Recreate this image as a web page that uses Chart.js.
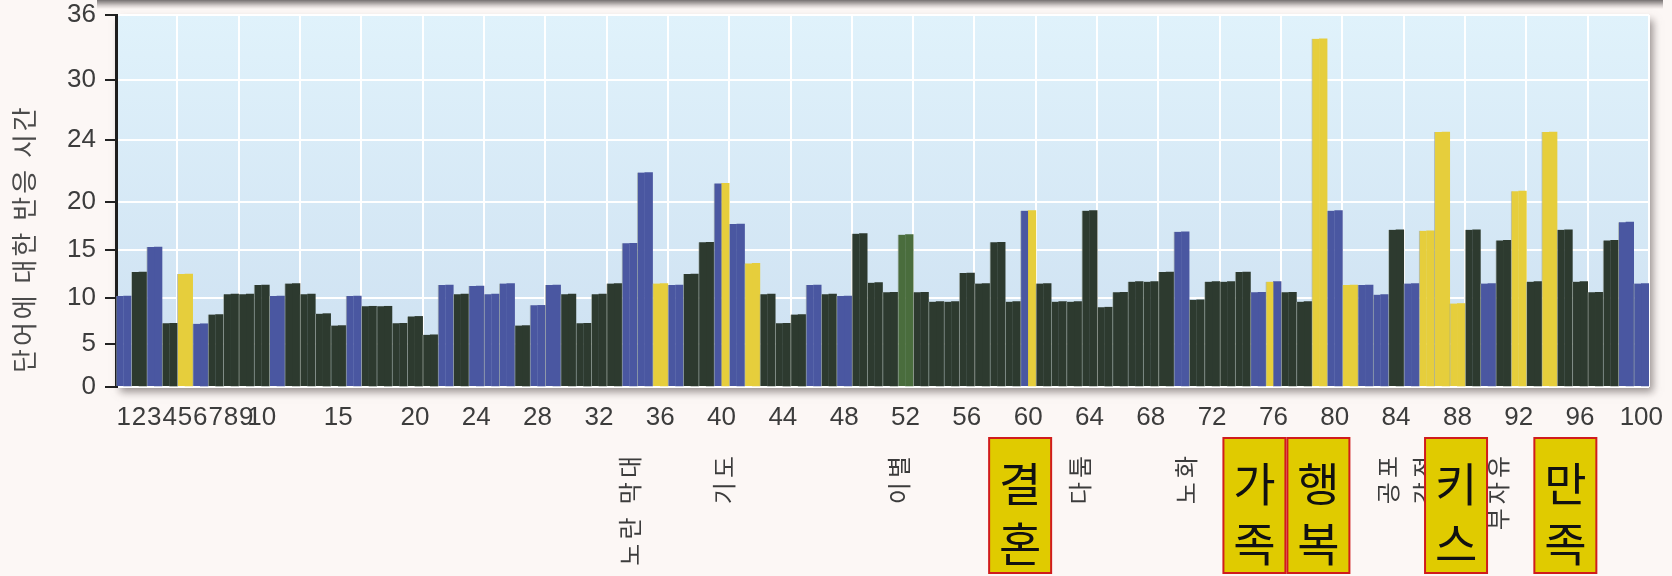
<!DOCTYPE html>
<html lang="ko">
<head>
<meta charset="utf-8">
<title>단어에 대한 반응 시간</title>
<script src="https://cdn.jsdelivr.net/npm/chart.js@4.4.1/dist/chart.umd.min.js"></script>
<style>
    html, body { margin: 0; padding: 0; }
    body { width: 1672px; height: 576px; overflow: hidden; position: relative; background: #fcf7f5; }
    #wrap { position: absolute; left: 0; top: 0; width: 1672px; height: 576px; }
    #topShade { position: absolute; left: 97px; top: 0; width: 1566px; height: 9px;
        background: linear-gradient(#757070, rgba(150,140,140,0.35) 65%, rgba(252,247,245,0)); }
</style>
</head>
<body>
<div id="wrap"><canvas id="myChart"></canvas></div>
<div id="topShade"></div>
<script>
'use strict';

let yTitle = '단어에 대한 반응 시간';
let yTicks = [0, 5, 10, 15, 20, 24, 30, 36];
let shownTicks = [1, 2, 3, 4, 5, 6, 7, 8, 9, 10, 15, 20, 24, 28, 32, 36, 40, 44, 48, 52, 56, 60, 64, 68, 72, 76, 80, 84, 88, 92, 96, 100];

let reactionTimes = [
    10.2, 12.7, 15.3, 7.25, 12.5, 7.2, 8.2, 10.4, 10.4, 11.35,
    10.2, 11.5, 10.4, 8.3, 7.0, 10.2, 9.1, 9.1, 7.25, 8.0,
    6.0, 11.35, 10.4, 11.25, 10.4, 11.5, 7.0, 9.2, 11.35, 10.4,
    7.25, 10.4, 11.5, 15.7, 21.9, 11.5, 11.35, 12.5, 15.8, 21.2,
    17.7, 13.6, 10.4, 7.25, 8.2, 11.35, 10.4, 10.2, 16.7, 11.6,
    10.6, 16.6, 10.6, 9.6, 9.6, 12.6, 11.5, 15.8, 9.6, 19.1,
    11.5, 9.6, 9.6, 19.1, 9.0, 10.6, 11.7, 11.7, 12.7, 16.9,
    9.8, 11.7, 11.7, 12.7, 10.6, 11.7, 10.6, 9.6, 33.8, 19.1,
    11.35, 11.35, 10.35, 17.1, 11.5, 17.0, 24.8, 9.4, 17.1, 11.5,
    16.0, 20.7, 11.7, 24.8, 17.1, 11.7, 10.6, 16.0, 17.9, 11.5
];

// d = dark, b = blue, y = yellow, g = green; two letters = left half / right half
let barGroups = [
    'b', 'd', 'b', 'd', 'y', 'b', 'd', 'd', 'd', 'd',
    'b', 'd', 'd', 'd', 'd', 'b', 'd', 'd', 'd', 'd',
    'd', 'b', 'd', 'b', 'b', 'b', 'd', 'b', 'b', 'd',
    'd', 'd', 'd', 'b', 'b', 'y', 'b', 'd', 'd', 'by',
    'b', 'y', 'd', 'd', 'd', 'b', 'd', 'b', 'd', 'd',
    'd', 'g', 'd', 'd', 'd', 'd', 'd', 'd', 'd', 'by',
    'd', 'd', 'd', 'd', 'd', 'd', 'd', 'd', 'd', 'b',
    'd', 'd', 'd', 'd', 'b', 'yb', 'd', 'd', 'y', 'b',
    'y', 'b', 'b', 'd', 'b', 'y', 'y', 'y', 'd', 'b',
    'd', 'y', 'd', 'y', 'd', 'd', 'd', 'd', 'b', 'b'
];

let wordBars = [34, 40, 52, 64, 70, 84, 86, 91];
let wordTexts = ['노란 막대', '기도', '이별', '다툼', '노화', '공포', '감정', '부자유'];
let boxBars = [60, 76, 79, 87, 94];
let boxTexts = ['결혼', '가족', '행복', '키스', '만족'];

let palette = { d: '#2d3a2f', b: '#4a57a1', y: '#e6ce3c', g: '#4a6d3d' };

let barNumbers = [];
for (let i = 1; i <= 100; i++) {
    barNumbers.push(i);
}

// the printed axis is not linear: each tick sits at its own height
let yTickFractions = [0, 0.1156, 0.2392, 0.3683, 0.4973, 0.664, 0.8253, 1];

class PiecewiseScale extends Chart.LinearScale {
    buildTicks() {
        return yTicks.map(v => ({ value: v }));
    }
    toFraction(v) {
        if (v <= yTicks[0]) return yTickFractions[0] + (v - yTicks[0]) * (yTickFractions[1] / yTicks[1]);
        for (let i = 1; i < yTicks.length; i++) {
            if (v <= yTicks[i]) {
                let t = (v - yTicks[i - 1]) / (yTicks[i] - yTicks[i - 1]);
                return yTickFractions[i - 1] + t * (yTickFractions[i] - yTickFractions[i - 1]);
            }
        }
        return 1;
    }
    getPixelForValue(value) {
        if (value === null || isNaN(value)) return NaN;
        return this.getPixelForDecimal(this.toFraction(value));
    }
    getValueForPixel(pixel) {
        let f = this.getDecimalForPixel(pixel);
        for (let i = 1; i < yTicks.length; i++) {
            if (f <= yTickFractions[i]) {
                let t = (f - yTickFractions[i - 1]) / (yTickFractions[i] - yTickFractions[i - 1]);
                return yTicks[i - 1] + t * (yTicks[i] - yTicks[i - 1]);
            }
        }
        return yTicks[yTicks.length - 1];
    }
}
PiecewiseScale.id = 'piecewise';
Chart.register(PiecewiseScale);

let plotBackground = {
    id: 'plotBackground',
    beforeDraw(chart) {
        let ctx = chart.ctx;
        let a = chart.chartArea;
        ctx.save();
        ctx.shadowColor = 'rgba(70,60,60,0.55)';
        ctx.shadowBlur = 8;
        ctx.shadowOffsetX = 4;
        ctx.shadowOffsetY = 5;
        let g = ctx.createLinearGradient(0, a.top, 0, a.bottom);
        g.addColorStop(0, '#e0f2fb');
        g.addColorStop(1, '#cde0f1');
        ctx.fillStyle = g;
        ctx.fillRect(a.left, a.top, a.width, a.height);
        ctx.restore();
    }
};

let annotations = {
    id: 'annotations',
    afterDraw(chart, args, opts) {
        let ctx = chart.ctx;
        let xs = chart.scales.x;

        // y axis title, reading upwards
        ctx.save();
        ctx.translate(24, 373);
        ctx.rotate(-Math.PI / 2);
        ctx.font = '26px "Noto Sans CJK KR"';
        ctx.letterSpacing = '3px';
        ctx.fillStyle = '#4a4a4a';
        ctx.textAlign = 'left';
        ctx.textBaseline = 'middle';
        ctx.fillText(yTitle, 0, 0);
        ctx.restore();

        // small rotated words under the axis
        for (let i = 0; i < wordBars.length; i++) {
            let x = xs.getPixelForValue(wordBars[i] - 1) + opts.wordNudge[i];
            ctx.save();
            ctx.translate(x, 452);
            ctx.rotate(-Math.PI / 2);
            ctx.font = '24px "Noto Sans CJK KR"';
            ctx.letterSpacing = '4px';
            ctx.fillStyle = '#3c3c3c';
            ctx.textAlign = 'right';
            ctx.textBaseline = 'middle';
            ctx.fillText(wordTexts[i], 0, 0);
            ctx.restore();
        }

        // highlighted words in yellow boxes
        for (let i = 0; i < boxBars.length; i++) {
            let cx = xs.getPixelForValue(boxBars[i] - 1) + opts.boxNudge[i];
            let w = 62, h = 135, top = 438;
            ctx.save();
            ctx.fillStyle = '#e0cb00';
            ctx.fillRect(cx - w / 2, top, w, h);
            ctx.strokeStyle = '#d01c1c';
            ctx.lineWidth = 2;
            ctx.strokeRect(cx - w / 2, top, w, h);
            ctx.font = '46px "Noto Sans CJK KR"';
            ctx.fillStyle = '#111';
            ctx.textAlign = 'center';
            ctx.textBaseline = 'middle';
            let chars = Array.from(boxTexts[i]);
            ctx.fillText(chars[0], cx, top + 46);
            ctx.fillText(chars[1], cx, top + 106);
            ctx.restore();
        }
    }
};

function init() {
    let leftColors = barGroups.map(g => palette[g[0]]);
    let rightColors = barGroups.map(g => palette[g[g.length - 1]]);

    let ctx = document.getElementById('myChart').getContext('2d');
    let chart = new Chart(ctx, {
        type: 'bar',
        data: {
            labels: barNumbers,
            datasets: [{
                label: 'left',
                data: reactionTimes,
                backgroundColor: leftColors,
                borderColor: 'rgba(150,160,150,0.6)',
                borderWidth: { left: 1, right: 0, top: 0, bottom: 0 },
                borderSkipped: false,
                barPercentage: 1,
                categoryPercentage: 1
            }, {
                label: 'right',
                data: reactionTimes,
                backgroundColor: rightColors,
                borderWidth: 0,
                barPercentage: 1,
                categoryPercentage: 1
            }]
        },
        options: {
            responsive: true,
            maintainAspectRatio: false,
            animation: false,
            layout: { padding: { top: 15, right: 23, left: 0, bottom: 0 } },
            plugins: {
                legend: { display: false },
                tooltip: { enabled: false },
                annotations: {
                    wordNudge: [0, 2, -7, -10, 4, -8, -3, -5],
                    boxNudge: [-8, -19, -1, 14, 16]
                }
            },
            scales: {
                x: {
                    type: 'category',
                    grid: { display: false, drawTicks: false },
                    border: { display: false },
                    ticks: {
                        autoSkip: false,
                        maxRotation: 0,
                        padding: 15,
                        color: '#3c3c3c',
                        font: { family: '"Liberation Sans", Arial, sans-serif', size: 26 },
                        callback: function(value, index) {
                            let n = barNumbers[index];
                            return shownTicks.includes(n) ? String(n) : '';
                        }
                    },
                    afterFit: function(scale) {
                        scale.height = 189;
                        scale.paddingLeft = 0;
                        scale.paddingRight = 0;
                    }
                },
                xg: {
                    type: 'linear',
                    position: 'top',
                    min: 0,
                    max: 24,
                    ticks: { display: false, stepSize: 1 },
                    grid: { color: '#ffffff', lineWidth: 2, drawTicks: false },
                    border: { display: false },
                    afterFit: function(scale) { scale.height = 0; }
                },
                y: {
                    type: 'piecewise',
                    min: 0,
                    max: 36,
                    grid: { color: '#ffffff', lineWidth: 2, tickColor: '#222', tickWidth: 2, tickLength: 11 },
                    border: { display: true, color: '#1e1e1e', width: 3 },
                    ticks: {
                        padding: 9,
                        color: '#3c3c3c',
                        font: { family: '"Liberation Sans", Arial, sans-serif', size: 26 },
                        callback: function(value) { return String(value); }
                    },
                    afterFit: function(scale) {
                        scale.width = 116;
                        scale.paddingTop = 0;
                        scale.paddingBottom = 0;
                    }
                }
            }
        },
        plugins: [plotBackground, annotations]
    });
}

document.addEventListener('DOMContentLoaded', function() {
    init();
});
</script>
</body>
</html>
